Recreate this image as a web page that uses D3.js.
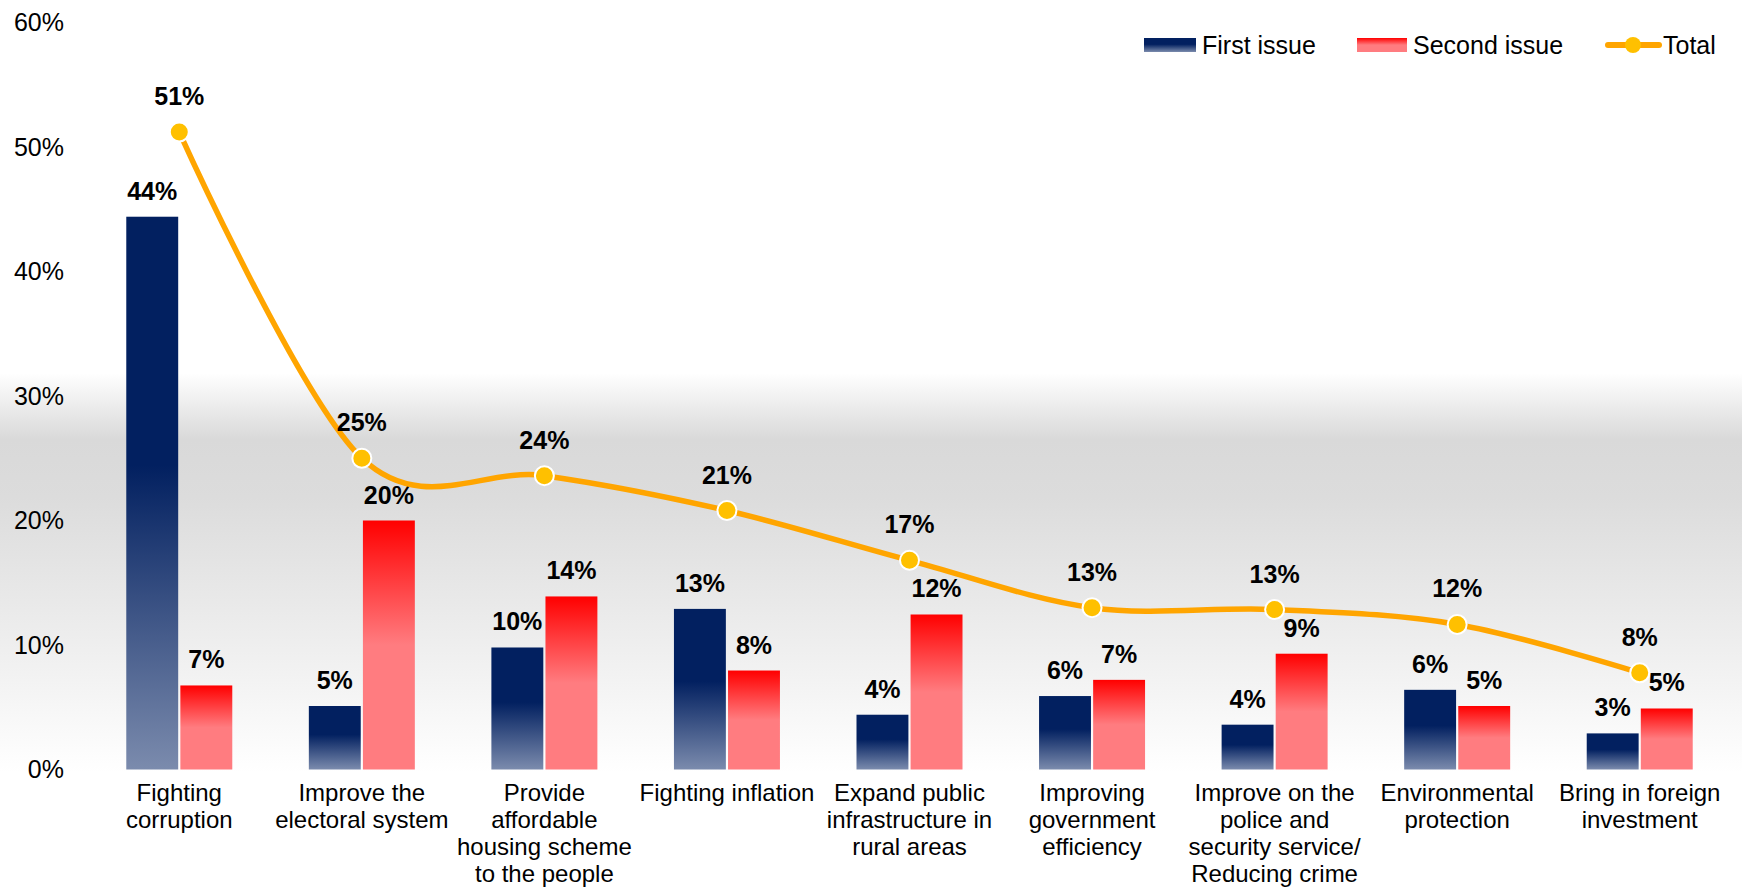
<!DOCTYPE html>
<meta charset="utf-8">
<style>
  body { margin: 0; }
  text { font-family: "Liberation Sans", Arial, sans-serif; fill: #000; }
</style>
<body>
<script src="https://d3js.org/d3.v7.min.js"></script>
<script>

// values (share of respondents)
var categories = [
  ["Fighting", "corruption"],
  ["Improve the", "electoral system"],
  ["Provide", "affordable", "housing scheme", "to the people"],
  ["Fighting inflation"],
  ["Expand public", "infrastructure in", "rural areas"],
  ["Improving", "government", "efficiency"],
  ["Improve on the", "police and", "security service/", "Reducing crime"],
  ["Environmental", "protection"],
  ["Bring in foreign", "investment"]
];
var firstIssue  = [0.444, 0.051, 0.098, 0.129, 0.044, 0.059, 0.036, 0.064, 0.029];
var secondIssue = [0.0675, 0.200, 0.139, 0.0795, 0.1245, 0.072, 0.093, 0.051, 0.049];
var total       = [0.512, 0.250, 0.236, 0.208, 0.168, 0.130, 0.1285, 0.1165, 0.0777];
var yTicks = [0, 0.1, 0.2, 0.3, 0.4, 0.5, 0.6];
var seriesNames = ["First issue", "Second issue", "Total"];

var width = 1742,
    height = 888;

var svg = d3.select("body").append("svg")
    .attr("width", width)
    .attr("height", height);

var defs = svg.append("defs");

// page background: white top, grey band, fading back to white
var bg = defs.append("linearGradient").attr("id", "bg")
    .attr("x1", 0).attr("y1", 0).attr("x2", 0).attr("y2", 1);
[[0, "#ffffff"], [0.42, "#ffffff"], [0.495, "#d9d9d9"], [0.56, "#dcdcdc"],
 [0.75, "#f1f1f1"], [0.87, "#ffffff"], [1, "#ffffff"]].forEach(function(s) {
  bg.append("stop").attr("offset", s[0]).attr("stop-color", s[1]);
});

var navy = defs.append("linearGradient").attr("id", "navy")
    .attr("x1", 0).attr("y1", 0).attr("x2", 0).attr("y2", 1);
[[0, "#022060"], [0.45, "#022060"], [1, "#7b8bad"]].forEach(function(s) {
  navy.append("stop").attr("offset", s[0]).attr("stop-color", s[1]);
});

var red = defs.append("linearGradient").attr("id", "red")
    .attr("x1", 0).attr("y1", 0).attr("x2", 0).attr("y2", 1);
[[0, "#ff0000"], [0.5, "#ff7c80"], [1, "#ff7c80"]].forEach(function(s) {
  red.append("stop").attr("offset", s[0]).attr("stop-color", s[1]);
});

svg.append("rect")
    .attr("width", width).attr("height", height)
    .attr("fill", "url(#bg)");

var idx = d3.range(categories.length);

var x = d3.scaleBand()
    .domain(idx)
    .range([88, 1731]);

var xSub = d3.scaleBand()
    .domain([0, 1])
    .range([-53, 53])
    .paddingInner(0.04);

var y = d3.scaleLinear()
    .domain([0, 0.6])
    .range([769.5, 22.5]);

var cx = function(i) { return x(i) + x.bandwidth() / 2; };
var pct = d3.format(".0%");

// y axis labels (no line, no grid)
svg.append("g").selectAll("text")
    .data(yTicks)
    .enter().append("text")
    .attr("x", 64)
    .attr("y", function(d) { return y(d); })
    .attr("dy", "0.35em")
    .attr("text-anchor", "end")
    .style("font-size", "25px")
    .text(pct);

// bars
var series = [
  { values: firstIssue, fill: "url(#navy)", k: 0 },
  { values: secondIssue, fill: "url(#red)", k: 1 }
];

series.forEach(function(s) {
  var g = svg.append("g");
  g.selectAll("rect")
      .data(s.values)
      .enter().append("rect")
      .attr("x", function(d, i) { return cx(i) + xSub(s.k); })
      .attr("y", function(d) { return y(d); })
      .attr("width", xSub.bandwidth())
      .attr("height", function(d) { return y(0) - y(d); })
      .attr("fill", s.fill);
  g.selectAll("text")
      .data(s.values)
      .enter().append("text")
      .attr("x", function(d, i) { return cx(i) + xSub(s.k) + xSub.bandwidth() / 2; })
      .attr("y", function(d) { return y(d) - 17; })
      .attr("text-anchor", "middle")
      .style("font-size", "25px")
      .style("font-weight", "bold")
      .text(pct);
});

// total line
var line = d3.line()
    .x(function(d, i) { return cx(i); })
    .y(function(d) { return y(d); })
    .curve(d3.curveCardinal.tension(0));

svg.append("path")
    .datum(total)
    .attr("d", line)
    .attr("fill", "none")
    .attr("stroke", "#ffa500")
    .attr("stroke-width", 5.5);

svg.append("g").selectAll("circle")
    .data(total)
    .enter().append("circle")
    .attr("cx", function(d, i) { return cx(i); })
    .attr("cy", function(d) { return y(d); })
    .attr("r", 9.5)
    .attr("fill", "#ffc000")
    .attr("stroke", "#fff")
    .attr("stroke-width", 2);

svg.append("g").selectAll("text")
    .data(total)
    .enter().append("text")
    .attr("x", function(d, i) { return cx(i); })
    .attr("y", function(d) { return y(d) - 27; })
    .attr("text-anchor", "middle")
    .style("font-size", "25px")
    .style("font-weight", "bold")
    .text(pct);

// category labels
svg.append("g").selectAll("text")
    .data(categories)
    .enter().append("text")
    .attr("text-anchor", "middle")
    .style("font-size", "24px")
    .each(function(lines, i) {
      d3.select(this).selectAll("tspan")
          .data(lines)
          .enter().append("tspan")
          .attr("x", cx(i))
          .attr("y", function(d, j) { return 801 + j * 27; })
          .text(function(d) { return d; });
    });

// legend
var legend = svg.append("g").style("font-size", "25px");
var ly = 45;

legend.append("rect").attr("x", 1144).attr("y", ly - 7).attr("width", 52).attr("height", 14)
    .attr("fill", "url(#navy)");
legend.append("text").attr("x", 1202).attr("y", ly).attr("dy", "0.35em").text(seriesNames[0]);

legend.append("rect").attr("x", 1357).attr("y", ly - 7).attr("width", 50).attr("height", 14)
    .attr("fill", "url(#red)");
legend.append("text").attr("x", 1413).attr("y", ly).attr("dy", "0.35em").text(seriesNames[1]);

legend.append("line").attr("x1", 1608).attr("x2", 1659).attr("y1", ly).attr("y2", ly)
    .attr("stroke", "#ffa500").attr("stroke-width", 6).attr("stroke-linecap", "round");
legend.append("circle").attr("cx", 1633).attr("cy", ly).attr("r", 8).attr("fill", "#ffc000");
legend.append("text").attr("x", 1663).attr("y", ly).attr("dy", "0.35em").text(seriesNames[2]);

</script>
</body>
